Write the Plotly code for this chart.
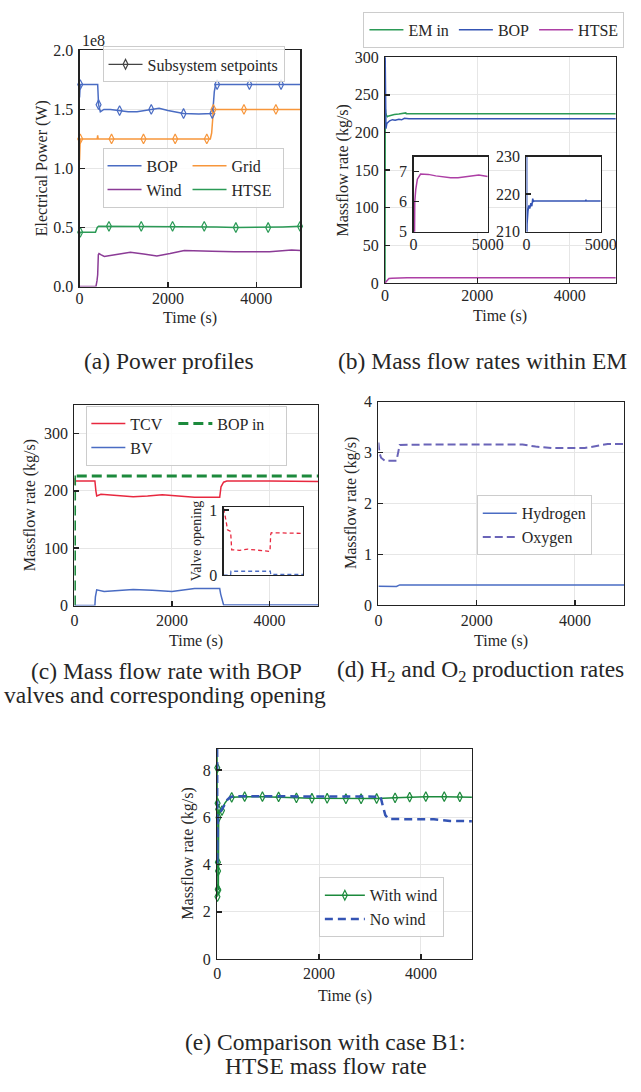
import plotly.graph_objects as go

W, H = 641, 1092
FONT = "Liberation Serif"
INK = "#262626"
GRID = "#e6e6e6"

C_BLUE = "#4a6cc3"
C_ORANGE = "#f7963b"
C_PURPLE = "#8b3b96"
C_GREEN = "#2b9a56"
C_MAGENTA = "#ad3fa5"
C_RED = "#e8283f"
C_DKGREEN = "#1c8a3c"
C_SLATE = "#6a64b8"
C_NAVY = "#3454b4"
C_PROXY = "#444444"

# ---------------- data: (a) power profiles (units of 1e8 W) ----------------
a_t_bop = [0, 15, 410, 430, 470, 550, 700, 906, 1100, 1300, 1623, 1800, 2000, 2354, 2700, 3004, 3020, 3050, 3080, 5000]
a_bop = [1.60, 1.71, 1.71, 1.54, 1.48, 1.50, 1.50, 1.49, 1.48, 1.48, 1.50, 1.51, 1.49, 1.465, 1.46, 1.465, 1.50, 1.65, 1.71, 1.71]
a_mk_t_bop = [15, 430, 906, 1623, 2354, 3004, 3114, 3845, 4561]
a_mk_bop = [1.71, 1.54, 1.49, 1.50, 1.465, 1.465, 1.71, 1.71, 1.71]

a_t_grid = [0, 15, 400, 410, 420, 2960, 2990, 3010, 3030, 5000]
a_grid = [1.07, 1.25, 1.25, 1.28, 1.25, 1.25, 1.30, 1.47, 1.50, 1.50]
a_mk_t_grid = [15, 724, 1447, 2164, 2880, 3030, 3721, 4444]
a_mk_grid = [1.25, 1.25, 1.25, 1.25, 1.25, 1.50, 1.50, 1.50]

a_t_wind = [0, 370, 395, 410, 425, 440, 480, 560, 800, 1150, 1450, 1750, 2050, 2370, 3000, 3500, 4300, 4800, 5000]
a_wind = [0, 0, 0.05, 0.10, 0.27, 0.28, 0.27, 0.255, 0.27, 0.29, 0.275, 0.26, 0.28, 0.305, 0.30, 0.295, 0.295, 0.31, 0.305]

a_t_htse = [0, 15, 360, 400, 430, 1000, 2000, 2822, 3100, 3538, 4269, 4600, 5000]
a_htse = [0.44, 0.46, 0.46, 0.50, 0.51, 0.51, 0.51, 0.51, 0.505, 0.50, 0.50, 0.505, 0.51]
a_mk_t_htse = [15, 665, 1396, 2105, 2822, 3538, 4269, 4990]
a_mk_htse = [0.46, 0.51, 0.51, 0.51, 0.51, 0.50, 0.50, 0.51]

# ---------------- data: (b) mass flow rates within EM (kg/s) ----------------
b_t_em = [0, 5, 15, 30, 50, 80, 120, 200, 300, 440, 450, 460, 5000]
b_em = [0, 232, 226, 223, 221, 222, 223, 224, 224.5, 225, 226, 225, 225]
b_t_bop = [0, 20, 40, 100, 160, 220, 300, 360, 420, 470, 520, 1000, 2000, 3000, 3990, 4000, 4010, 5000]
b_bop = [320, 205, 212, 215.5, 217, 216.2, 217.6, 216.8, 218.8, 218.0, 218.2, 218.2, 218.2, 218.2, 218.2, 218.6, 218.2, 218.2]
b_t_htse = [0, 60, 85, 150, 260, 476, 1000, 1500, 2000, 2500, 3000, 3500, 4000, 4400, 5000]
b_htse = [0, 5.2, 6.0, 6.4, 6.75, 6.92, 6.91, 6.86, 6.82, 6.80, 6.80, 6.83, 6.88, 6.89, 6.84]

# ---------------- data: (c) BOP valves (kg/s) and openings (-) ----------------
c_t_tcv = [0, 5, 20, 420, 440, 457, 543, 808, 1205, 1500, 1801, 2132, 2464, 2980, 3007, 3060, 3126, 4000, 5000]
c_tcv = [210, 222, 217, 217, 200, 191, 194, 192.6, 189.7, 191, 193, 191, 188.6, 188.6, 207, 215, 217, 217, 216]
c_t_bv = [0, 420, 430, 457, 609, 1205, 1600, 2000, 2464, 2980, 3000, 3060, 5000]
c_bv = [0, 0.5, 15, 27.4, 24.6, 28, 26.5, 24.6, 29.7, 29.7, 20, 1.1, 1.1]
c_t_bopin = [0, 3, 10, 30, 5000]
c_bopin = [0, 229, 226, 225.7, 225.7]
c_t_tcv_open = [0, 41, 100, 163, 244, 440, 470, 508, 1000, 1524, 2000, 2642, 2920, 2960, 3000, 5000]
c_tcv_open = [1.02, 0.985, 0.9, 0.816, 0.694, 0.67, 0.45, 0.388, 0.38, 0.398, 0.385, 0.364, 0.364, 0.62, 0.65, 0.641]
c_t_bv_open = [0, 440, 460, 2940, 2960, 5000]
c_bv_open = [0, 0, 0.058, 0.058, 0.01, 0.01]

# ---------------- data: (d) H2 and O2 production (kg/s) ----------------
d_t_o2 = [0, 20, 53, 133, 367, 400, 433, 1000, 2000, 2933, 3200, 3533, 4200, 4450, 4667, 5000]
d_o2 = [3.2, 3.0, 2.9, 2.84, 2.84, 3.0, 3.15, 3.16, 3.16, 3.16, 3.12, 3.09, 3.09, 3.13, 3.17, 3.17]
d_t_h2 = [0, 367, 433, 2933, 3533, 4200, 4667, 5000]
d_h2 = [0.375, 0.37, 0.40, 0.40, 0.39, 0.39, 0.40, 0.40]

# ---------------- data: (e) HTSE mass flow, with / without wind (kg/s) ----------------
e_t_wind = [0, 3, 6, 9, 12, 15, 18, 21, 24, 27, 30, 40, 60, 95, 150, 200, 286, 540, 889, 1206, 1556, 1860,
            2159, 2527, 2825, 3130, 3492, 3778, 4095, 4457, 4762, 5000]
e_wind = [9.2, 8.1, 2.64, 6.6, 2.95, 4.1, 3.73, 6.35, 2.92, 6.0, 6.1, 6.2, 6.25, 6.29, 6.6, 6.75, 6.85, 6.88, 6.88,
          6.87, 6.83, 6.81, 6.81, 6.79, 6.79, 6.80, 6.83, 6.86, 6.88, 6.88, 6.87, 6.85]
e_mk_t = [3, 6, 9, 12, 15, 18, 21, 24, 27, 95, 286, 540, 889, 1206, 1556, 1860, 2159, 2527, 2825, 3130, 3492,
          3778, 4095, 4457, 4762]
e_mk_v = [8.1, 2.64, 6.6, 2.95, 4.1, 3.73, 6.35, 2.92, 6.0, 6.29, 6.85, 6.88, 6.88, 6.87, 6.83, 6.81, 6.81, 6.79,
          6.79, 6.80, 6.83, 6.86, 6.88, 6.88, 6.87]
e_t_nowind = [0, 3, 8, 15, 30, 60, 100, 150, 200, 250, 320, 1000, 2000, 3000, 3206, 3250, 3300, 3365, 4000, 4254,
              4571, 5000]
e_nowind = [8.9, 4.0, 5.6, 6.0, 6.1, 6.2, 6.35, 6.55, 6.75, 6.85, 6.9, 6.9, 6.9, 6.9, 6.88, 6.5, 6.1, 5.93, 5.93,
            5.92, 5.85, 5.84]


def X(p):
    return p / W


def Y(p):
    return 1 - p / H


# panel geometry (pixels) and axis settings
panels = {
    1: dict(x=(78, 306), y=(43, 283), xr=[0, 5000], yr=[0, 2.0], xt=[0, 2000, 4000],
            yt=[0, 0.5, 1.0, 1.5, 2.0], fmt=".1f", grid=True, xl=True, xso=-3),
    2: dict(x=(393.3, 631.5), y=(50, 279.3), xr=[0, 5000], yr=[0, 300], xt=[0, 2000, 4000],
            yt=[0, 50, 100, 150, 200, 250, 300], fmt=None, grid=True, xl=True, xso=-2),
    3: dict(x=(422.7, 499.3), y=(151, 227.3), xr=[0, 5000], yr=[5, 7.5], xt=[0, 5000],
            yt=[5, 6, 7], fmt=None, grid=False, xl=True, xso=-2),
    4: dict(x=(539.3, 616), y=(151, 227.3), xr=[0, 5000], yr=[210, 230], xt=[0, 5000],
            yt=[210, 220, 230], fmt=None, grid=False, xl=True, xso=-2),
    5: dict(x=(72.7, 324.3), y=(403, 607), xr=[0, 5000], yr=[0, 350], xt=[0, 2000, 4000],
            yt=[0, 100, 200, 300], fmt=None, grid=True, xl=True, xso=0),
    6: dict(x=(226.7, 308.7), y=(507.3, 576), xr=[0, 5000], yr=[0, 1.04], xt=[0, 5000],
            yt=[0, 1], fmt=None, grid=False, xl=False, xso=0),
    7: dict(x=(386.5, 640), y=(400, 606.7), xr=[0, 5000], yr=[0, 4], xt=[0, 2000, 4000],
            yt=[0, 1, 2, 3, 4], fmt=None, grid=True, xl=True, xso=0),
    8: dict(x=(220, 483), y=(752.7, 966), xr=[0, 5000], yr=[0, 8.9], xt=[0, 2000, 4000],
            yt=[0, 2, 4, 6, 8], fmt=None, grid=True, xl=True, xso=0),
}

fig = go.Figure()


def ax_id(n):
    return "" if n == 1 else str(n)


def add(t, v, n, color, width=1.5, dash="solid", name=None, legend=None, group=None, lwidth=None,
        mode="lines", symbol=None, msize=7, clip=True):
    kw = dict(x=t, y=v, xaxis="x" + ax_id(n), yaxis="y" + ax_id(n), mode=mode,
              line=dict(color=color, width=width, dash=dash), hoverinfo="skip",
              showlegend=name is not None, cliponaxis=clip)
    if name is not None:
        kw["name"] = name
        kw["legend"] = legend
    if group is not None:
        kw["legendgroup"] = group
    if lwidth is not None:
        kw["legendwidth"] = lwidth
    if "markers" in mode:
        kw["marker"] = dict(symbol=symbol, size=msize, color=color, line=dict(color=color, width=1.2))
    fig.add_trace(go.Scatter(**kw))


# (a)
add([None], [None], 1, C_PROXY, width=1.2, name="Subsystem setpoints", legend="legend",
    mode="lines+markers", symbol="diamond-tall-open")
add(a_t_bop, a_bop, 1, C_BLUE, name="BOP", legend="legend2", group="a1", lwidth=36)
add(a_t_grid, a_grid, 1, C_ORANGE, name="Grid", legend="legend2", group="a2", lwidth=46)
add(a_t_wind, a_wind, 1, C_PURPLE, name="Wind", legend="legend2", group="a1", lwidth=36)
add(a_t_htse, a_htse, 1, C_GREEN, name="HTSE", legend="legend2", group="a2", lwidth=46)
add(a_mk_t_bop, a_mk_bop, 1, C_BLUE, mode="markers", symbol="diamond-tall-open", clip=False)
add(a_mk_t_grid, a_mk_grid, 1, C_ORANGE, mode="markers", symbol="diamond-tall-open", clip=False)
add(a_mk_t_htse, a_mk_htse, 1, C_GREEN, mode="markers", symbol="diamond-tall-open", clip=False)

# (b)
add(b_t_em, b_em, 2, C_GREEN, name="EM in", legend="legend3")
add(b_t_bop, b_bop, 2, C_NAVY, name="BOP", legend="legend3")
add(b_t_htse, b_htse, 2, C_MAGENTA, name="HTSE", legend="legend3")
add(b_t_htse, b_htse, 3, C_MAGENTA)
add(b_t_bop, b_bop, 4, C_NAVY)

# (c)
add(c_t_tcv, c_tcv, 5, C_RED, name="TCV", legend="legend4", group="c1", lwidth=38)
add(c_t_bopin, c_bopin, 5, C_DKGREEN, width=3, dash="10px,5px", name="BOP in", legend="legend4",
    group="c2", lwidth=64)
add(c_t_bv, c_bv, 5, C_BLUE, name="BV", legend="legend4", group="c1", lwidth=38)
add(c_t_tcv_open, c_tcv_open, 6, C_RED, width=1.3, dash="4px,3px")
add(c_t_bv_open, c_bv_open, 6, C_BLUE, width=1.3, dash="4px,3px")

# (d)
add(d_t_h2, d_h2, 7, C_BLUE, name="Hydrogen", legend="legend5")
add(d_t_o2, d_o2, 7, C_SLATE, width=2, dash="8px,4px", name="Oxygen", legend="legend5")

# (e)
add([None], [None], 8, C_DKGREEN, name="With wind", legend="legend6", mode="lines+markers",
    symbol="diamond-tall-open")
add(e_t_wind, e_wind, 8, C_DKGREEN)
add(e_mk_t, e_mk_v, 8, C_DKGREEN, mode="markers", symbol="diamond-tall-open", clip=False)
add(e_t_nowind, e_nowind, 8, C_NAVY, width=2.5, dash="8px,5px", name="No wind", legend="legend6")

tickfont = dict(family=FONT, size=16, color=INK)
layout = dict(
    width=W, height=H, autosize=False,
    margin=dict(l=0, r=0, t=0, b=0, pad=0),
    paper_bgcolor="white", plot_bgcolor="white",
    font=dict(family=FONT, size=16, color=INK),
    hovermode=False,
)

shapes = []
for n, p in panels.items():
    common = dict(ticks="inside", ticklen=5, tickwidth=1.5, tickcolor="#222222",
                  showline=True, linecolor="#222222", linewidth=1.2, mirror=True,
                  zeroline=False, showgrid=p["grid"], gridcolor=GRID, gridwidth=1,
                  tickfont=tickfont, fixedrange=True)
    xa = dict(common, domain=[X(p["x"][0]), X(p["x"][1])], range=p["xr"], tickmode="array",
              tickvals=p["xt"], anchor="y" + ax_id(n), showticklabels=p["xl"],
              ticklabelstandoff=p["xso"])
    ya = dict(common, domain=[Y(p["y"][1]), Y(p["y"][0])], range=p["yr"], tickmode="array",
              tickvals=p["yt"], anchor="x" + ax_id(n), ticklabelstandoff=2)
    if p["fmt"]:
        ya["tickformat"] = p["fmt"]
    layout["xaxis" + ax_id(n)] = xa
    layout["yaxis" + ax_id(n)] = ya
    if n in (3, 4, 6):
        shapes.append(dict(type="rect", xref="x" + ax_id(n), yref="y" + ax_id(n),
                           x0=p["xr"][0], x1=p["xr"][1], y0=p["yr"][0], y1=p["yr"][1],
                           fillcolor="white", line=dict(width=0), layer="below"))
layout["shapes"] = shapes

leg_common = dict(bgcolor="rgba(255,255,255,0.85)", bordercolor="#cccccc", borderwidth=1,
                  font=dict(family=FONT, size=16, color=INK), xanchor="left", yanchor="top",
                  itemwidth=34, tracegroupgap=0)
layout["legend"] = dict(leg_common, x=X(101.7), y=Y(39))
layout["legend2"] = dict(leg_common, x=X(101.7), y=Y(142), orientation="h", traceorder="grouped")
layout["legend3"] = dict(leg_common, x=X(371), y=Y(4), orientation="h")
layout["legend4"] = dict(leg_common, x=X(85), y=Y(404), orientation="h", traceorder="grouped")
layout["legend5"] = dict(leg_common, x=X(488), y=Y(495))
layout["legend6"] = dict(leg_common, x=X(325), y=Y(883), itemwidth=40)

ROT = -90
texts = [
    ("1e8", 78, 33, 16, 0, "left"),
    ("Electrical Power (W)", 40, 163, 16, ROT, "center"),
    ("Time (s)", 192, 315, 16, 0, "center"),
    ("(a) Power profiles", 170, 359, 23.5, 0, "center"),
    ("Massflow rate (kg/s)", 350, 165, 16, ROT, "center"),
    ("Time (s)", 512, 313, 16, 0, "center"),
    ("(b) Mass flow rates within EM", 494, 359, 23.5, 0, "center"),
    ("Massflow rate (kg/s)", 27, 505, 16, ROT, "center"),
    ("Valve opening", 199, 542, 14, ROT, "center"),
    ("Time (s)", 198.5, 643, 16, 0, "center"),
    ("(c) Mass flow rate with BOP", 168, 673, 23.5, 0, "center"),
    ("valves and corresponding opening", 166, 698, 23.5, 0, "center"),
    ("Massflow rate (kg/s)", 358, 503, 16, ROT, "center"),
    ("Time (s)", 513, 643, 16, 0, "center"),
    ("(d) H<sub>2</sub> and O<sub>2</sub> production rates", 492, 673, 23.5, 0, "center"),
    ("Massflow rate (kg/s)", 190, 859, 16, ROT, "center"),
    ("Time (s)", 351.5, 1004, 16, 0, "center"),
    ("(e) Comparison with case B1:", 331.5, 1050, 23.5, 0, "center"),
    ("HTSE mass flow rate", 332, 1075, 23.5, 0, "center"),
]
layout["annotations"] = [
    dict(text=t, x=X(x), y=Y(y), xref="paper", yref="paper", xanchor=xa, yanchor="middle",
         showarrow=False, textangle=ang, font=dict(family=FONT, size=s, color=INK))
    for (t, x, y, s, ang, xa) in texts
]

fig.update_layout(**layout)
fig.write_html("out.html", config={"displayModeBar": False, "staticPlot": True})
